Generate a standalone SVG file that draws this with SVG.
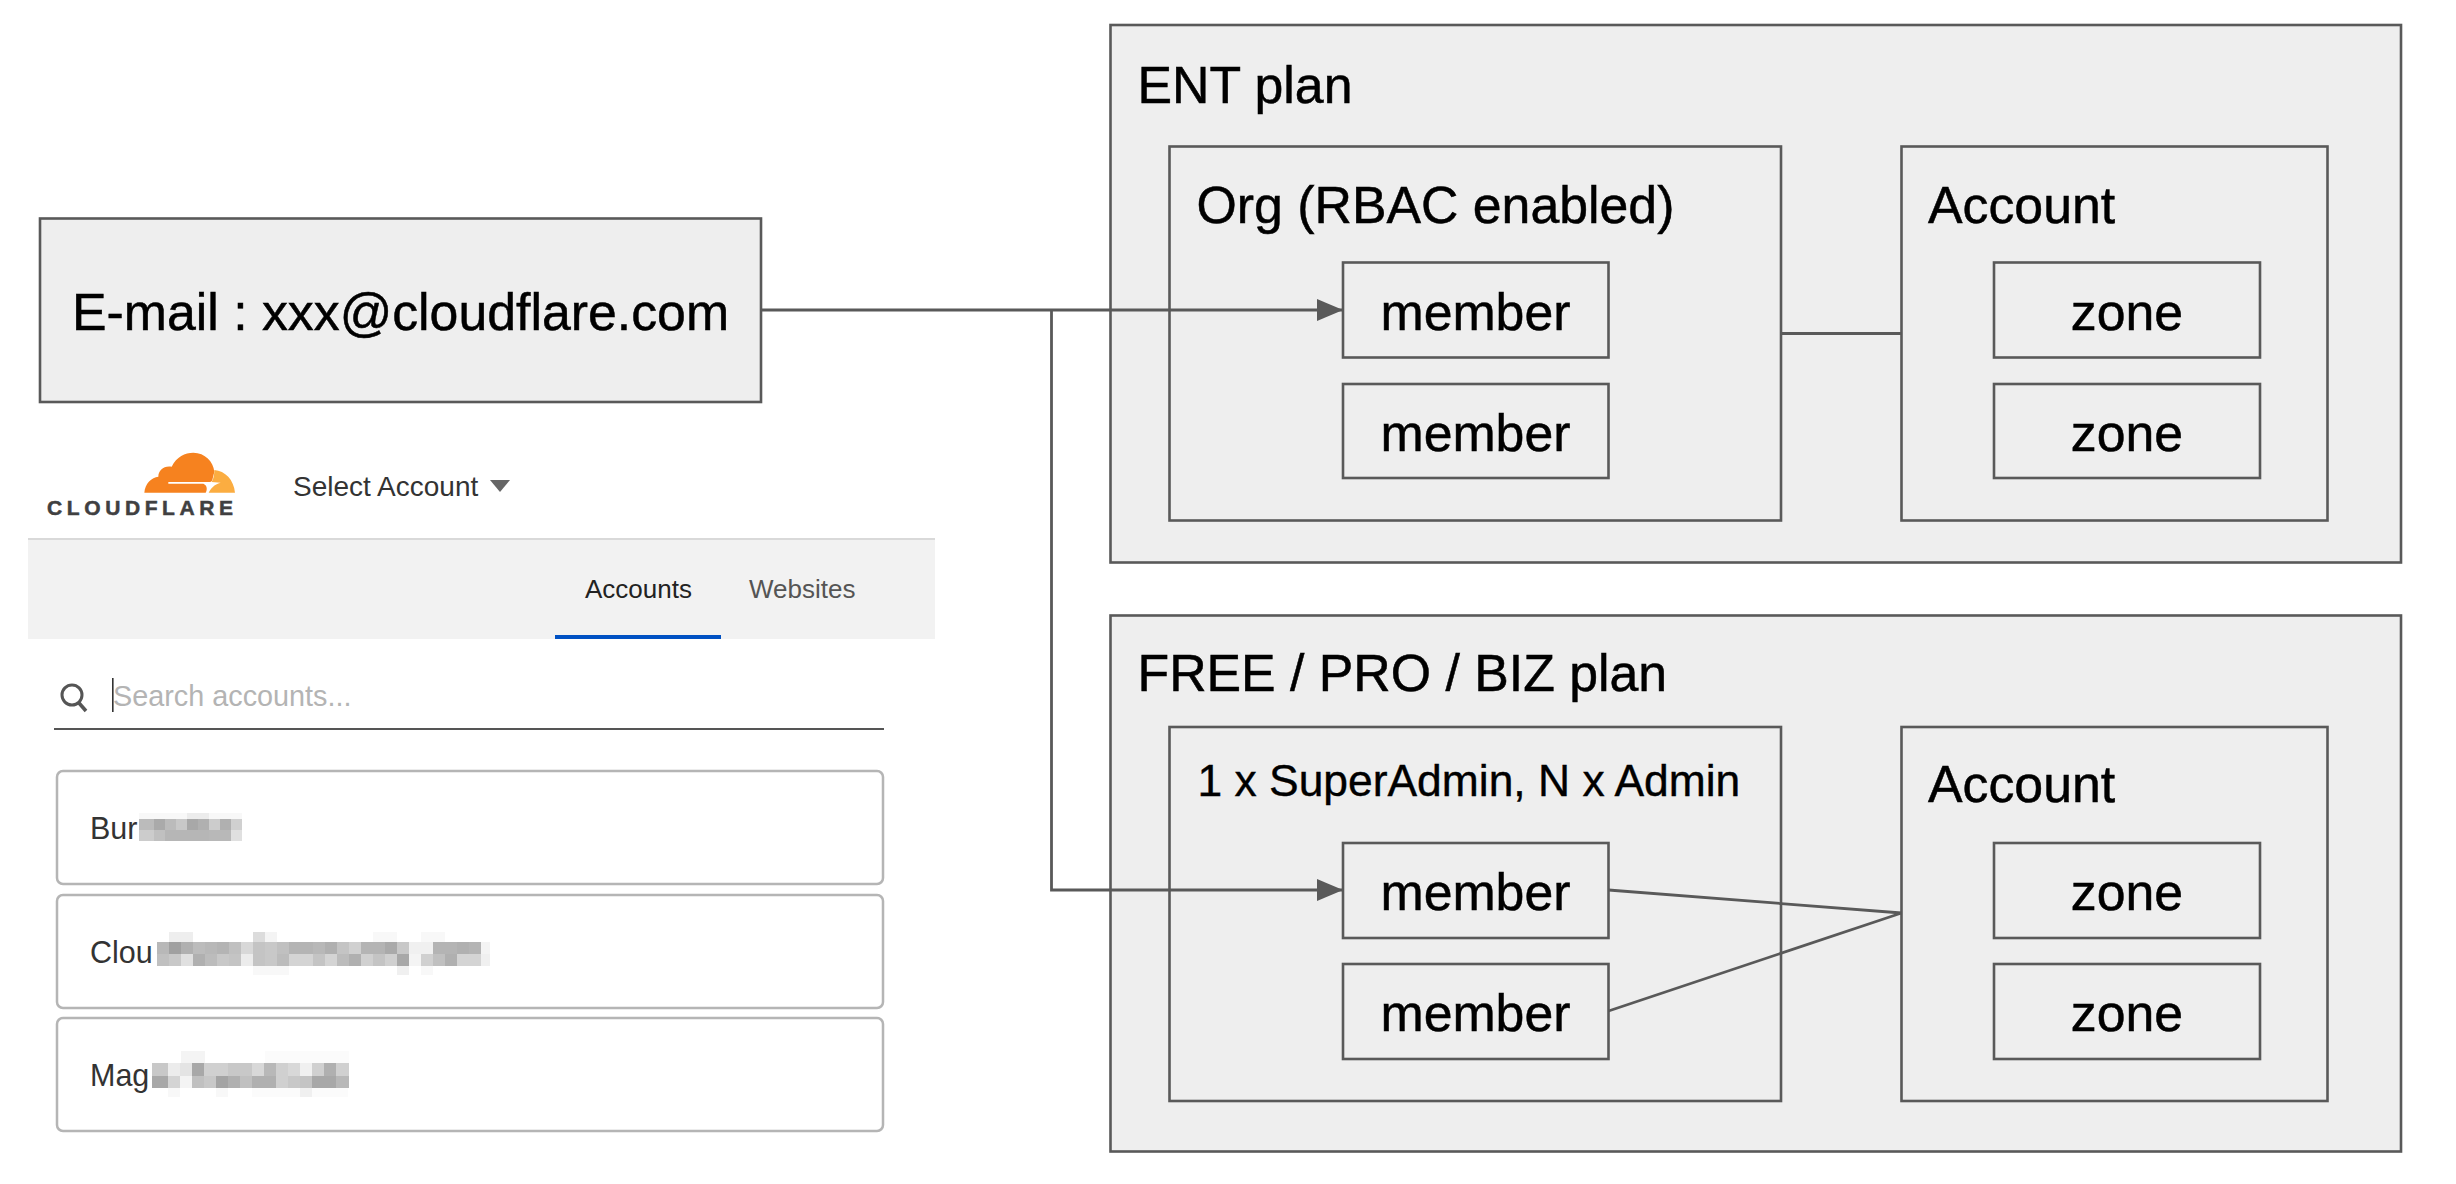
<svg xmlns="http://www.w3.org/2000/svg" width="2456" height="1184" viewBox="0 0 2456 1184">
<style>
text{font-family:"Liberation Sans",Arial,sans-serif}
.b{fill:#eeeeee;stroke:#595959;stroke-width:2.6}
.t{font-size:51.8px;fill:#000;stroke:#000;stroke-width:.5px}
.c{text-anchor:middle}
.ui{font-size:26px;fill:#333}
.lg{font-size:30.500px}
.card{fill:#fff;stroke:#b5b5b5;stroke-width:2.5}
.w{fill:none;stroke:#595959;stroke-width:2.8}
</style>
<defs>
<marker id="arrow" markerUnits="userSpaceOnUse" markerWidth="27" markerHeight="22" refX="26" refY="11" orient="auto"><path d="M0 0L26 11L0 22Z" fill="#595959"/></marker>
</defs>
<rect width="2456" height="1184" fill="#fff"/>
<g id="screenshot">
<g id="logo" transform="translate(30 440) scale(.33333)">
<path fill="#f6821f" d="M343 158C345 130 365 112 385 110C385 90 402 76 425 80C440 50 465 38 490 38C525 38 550 65 553 95L547 120C545 128 535 126 530 126L415 126L415 131L520 131C531 135 533 148 527 158Z"/>
<path fill="#fbad41" d="M536 158C542 146 552 133 572 128L545 126C552 115 553 100 553 90C585 92 612 120 615 158Z"/>
</g>
<text x="47" y="515" font-size="21" font-weight="700" fill="#404041" stroke="#404041" stroke-width=".5" letter-spacing="4.6">CLOUDFLARE</text>
<text class="ui" x="293" y="496" style="font-size:28px">Select Account</text>
<path d="M490 480H510L500 492Z" fill="#666"/>
<rect x="28" y="539" width="907" height="100" fill="#f2f2f2"/>
<rect x="28" y="538" width="907" height="2" fill="#d9d9d9"/>
<rect x="555" y="635" width="166" height="4" fill="#0051c3"/>
<text class="ui" x="585" y="597.500" style="fill:#222">Accounts</text>
<text class="ui" x="749" y="597.500" style="fill:#555">Websites</text>
<circle cx="72" cy="695" r="10" fill="none" stroke="#555" stroke-width="3"/>
<path d="M79 703L86 711" stroke="#555" stroke-width="3.5" fill="none"/>
<rect x="112" y="678" width="1.6" height="34" fill="#333"/>
<text class="ui" x="113" y="706" style="fill:#b4b4b4;font-size:28.800px">Search accounts...</text>
<rect x="54" y="728" width="830" height="2" fill="#555"/>
<rect class="card" x="57" y="771" width="826" height="113" rx="6"/>
<rect class="card" x="57" y="895" width="826" height="113" rx="6"/>
<rect class="card" x="57" y="1018" width="826" height="113" rx="6"/>
<text class="ui lg" x="90" y="838.500">Bur</text>
<text class="ui lg" x="90" y="962.500">Clou</text>
<text class="ui lg" x="90" y="1086">Mag</text>
<g id="blur1" shape-rendering="crispEdges">
<rect x="139" y="813" width="103" height="6" fill="#f8f8f8"/><rect x="187" y="813" width="22" height="6" fill="#ececec"/>
<rect x="139" y="819" width="15" height="11" fill="#bbb"/><rect x="154" y="819" width="11" height="11" fill="#aaa"/><rect x="165" y="819" width="11" height="11" fill="#bbb"/><rect x="176" y="819" width="11" height="11" fill="#c8c8c8"/><rect x="187" y="819" width="11" height="11" fill="#a8a8a8"/><rect x="198" y="819" width="11" height="11" fill="#b0b0b0"/><rect x="209" y="819" width="11" height="11" fill="#ccc"/><rect x="220" y="819" width="11" height="11" fill="#b0b0b0"/><rect x="231" y="819" width="11" height="11" fill="#d0d0d0"/>
<rect x="139" y="830" width="15" height="11" fill="#ccc"/><rect x="154" y="830" width="11" height="11" fill="#c0c0c0"/><rect x="165" y="830" width="44" height="11" fill="#b6b6b6"/><rect x="209" y="830" width="22" height="11" fill="#b8b8b8"/><rect x="231" y="830" width="11" height="11" fill="#e0e0e0"/>
</g>
<g id="blur2" shape-rendering="crispEdges">
<rect x="169" y="932" width="24" height="10" fill="#eee"/><rect x="253" y="932" width="12" height="10" fill="#dcdcdc"/><rect x="265" y="932" width="12" height="10" fill="#f4f4f4"/><rect x="373" y="932" width="24" height="10" fill="#f8f8f8"/><rect x="421" y="932" width="24" height="10" fill="#f8f8f8"/>
<rect x="157" y="942" width="12" height="12" fill="#b8b8b8"/><rect x="169" y="942" width="12" height="12" fill="#a0a0a0"/><rect x="181" y="942" width="12" height="12" fill="#b0b0b0"/><rect x="193" y="942" width="12" height="12" fill="#bcbcbc"/><rect x="205" y="942" width="12" height="12" fill="#b8b8b8"/><rect x="217" y="942" width="12" height="12" fill="#b4b4b4"/><rect x="229" y="942" width="12" height="12" fill="#c0c0c0"/><rect x="241" y="942" width="12" height="12" fill="#d8d8d8"/><rect x="253" y="942" width="12" height="12" fill="#c4c4c4"/><rect x="265" y="942" width="12" height="12" fill="#c8c8c8"/><rect x="277" y="942" width="12" height="12" fill="#c0c0c0"/><rect x="289" y="942" width="24" height="12" fill="#b4b4b4"/><rect x="313" y="942" width="12" height="12" fill="#b8b8b8"/><rect x="325" y="942" width="12" height="12" fill="#b0b0b0"/><rect x="337" y="942" width="12" height="12" fill="#c4c4c4"/><rect x="349" y="942" width="12" height="12" fill="#d0d0d0"/><rect x="361" y="942" width="24" height="12" fill="#b4b4b4"/><rect x="385" y="942" width="12" height="12" fill="#aaa"/><rect x="397" y="942" width="12" height="12" fill="#c8c8c8"/><rect x="409" y="942" width="24" height="12" fill="#f0f0f0"/><rect x="433" y="942" width="24" height="12" fill="#b4b4b4"/><rect x="457" y="942" width="12" height="12" fill="#b0b0b0"/><rect x="469" y="942" width="12" height="12" fill="#b4b4b4"/><rect x="481" y="942" width="9" height="12" fill="#f4f4f4"/>
<rect x="157" y="954" width="12" height="12" fill="#c0c0c0"/><rect x="169" y="954" width="12" height="12" fill="#c8c8c8"/><rect x="181" y="954" width="12" height="12" fill="#e0e0e0"/><rect x="193" y="954" width="12" height="12" fill="#b0b0b0"/><rect x="205" y="954" width="12" height="12" fill="#bcbcbc"/><rect x="217" y="954" width="12" height="12" fill="#c8c8c8"/><rect x="229" y="954" width="12" height="12" fill="#c4c4c4"/><rect x="241" y="954" width="12" height="12" fill="#ececec"/><rect x="253" y="954" width="12" height="12" fill="#c4c4c4"/><rect x="265" y="954" width="12" height="12" fill="#c8c8c8"/><rect x="277" y="954" width="12" height="12" fill="#bcbcbc"/><rect x="289" y="954" width="24" height="12" fill="#d4d4d4"/><rect x="313" y="954" width="12" height="12" fill="#c4c4c4"/><rect x="325" y="954" width="12" height="12" fill="#d4d4d4"/><rect x="337" y="954" width="12" height="12" fill="#bcbcbc"/><rect x="349" y="954" width="12" height="12" fill="#b0b0b0"/><rect x="361" y="954" width="12" height="12" fill="#d0d0d0"/><rect x="373" y="954" width="12" height="12" fill="#c4c4c4"/><rect x="385" y="954" width="12" height="12" fill="#d0d0d0"/><rect x="397" y="954" width="12" height="12" fill="#a8a8a8"/><rect x="409" y="954" width="12" height="12" fill="#f4f4f4"/><rect x="421" y="954" width="12" height="12" fill="#d0d0d0"/><rect x="433" y="954" width="12" height="12" fill="#c0c0c0"/><rect x="445" y="954" width="12" height="12" fill="#b0b0b0"/><rect x="457" y="954" width="24" height="12" fill="#d4d4d4"/><rect x="481" y="954" width="9" height="12" fill="#f0f0f0"/>
<rect x="253" y="966" width="36" height="9" fill="#f8f8f8"/><rect x="397" y="966" width="12" height="9" fill="#f0f0f0"/><rect x="421" y="966" width="12" height="9" fill="#f8f8f8"/>
</g>
<g id="blur3" shape-rendering="crispEdges">
<rect x="181" y="1051" width="24" height="12" fill="#f4f4f4"/><rect x="265" y="1051" width="84" height="12" fill="#fbfbfb"/>
<rect x="152" y="1063" width="16" height="13" fill="#c8c8c8"/><rect x="168" y="1063" width="12" height="13" fill="#ececec"/><rect x="180" y="1063" width="12" height="13" fill="#e4e4e4"/><rect x="192" y="1063" width="12" height="13" fill="#a8a8a8"/><rect x="204" y="1063" width="24" height="13" fill="#d0d0d0"/><rect x="228" y="1063" width="24" height="13" fill="#c8c8c8"/><rect x="252" y="1063" width="12" height="13" fill="#d8d8d8"/><rect x="264" y="1063" width="12" height="13" fill="#b8b8b8"/><rect x="276" y="1063" width="12" height="13" fill="#d0d0d0"/><rect x="288" y="1063" width="12" height="13" fill="#d8d8d8"/><rect x="300" y="1063" width="12" height="13" fill="#f0f0f0"/><rect x="312" y="1063" width="12" height="13" fill="#d0d0d0"/><rect x="324" y="1063" width="12" height="13" fill="#b0b0b0"/><rect x="336" y="1063" width="13" height="13" fill="#d0d0d0"/>
<rect x="152" y="1076" width="16" height="12" fill="#a8a8a8"/><rect x="168" y="1076" width="12" height="12" fill="#d4d4d4"/><rect x="180" y="1076" width="12" height="12" fill="#f4f4f4"/><rect x="192" y="1076" width="12" height="12" fill="#c0c0c0"/><rect x="204" y="1076" width="12" height="12" fill="#c8c8c8"/><rect x="216" y="1076" width="12" height="12" fill="#a4a4a4"/><rect x="228" y="1076" width="12" height="12" fill="#b0b0b0"/><rect x="240" y="1076" width="12" height="12" fill="#c0c0c0"/><rect x="252" y="1076" width="24" height="12" fill="#b0b0b0"/><rect x="276" y="1076" width="12" height="12" fill="#d0d0d0"/><rect x="288" y="1076" width="12" height="12" fill="#c8c8c8"/><rect x="300" y="1076" width="12" height="12" fill="#c4c4c4"/><rect x="312" y="1076" width="24" height="12" fill="#a8a8a8"/><rect x="336" y="1076" width="13" height="12" fill="#b8b8b8"/>
<rect x="168" y="1088" width="12" height="9" fill="#f8f8f8"/><rect x="216" y="1088" width="12" height="9" fill="#f8f8f8"/><rect x="252" y="1088" width="96" height="9" fill="#fbfbfb"/><rect x="300" y="1088" width="12" height="9" fill="#f0f0f0"/>
</g>
</g>
<g id="email"><rect class="b" x="40" y="218.500" width="721" height="183.500"/><text class="t" x="72" y="330">E-mail : xxx@cloudflare.com</text></g>
<g id="ent-plan"><rect class="b" x="1110.500" y="25" width="1290.500" height="537.500"/><text class="t" x="1137.500" y="103">ENT plan</text></g>
<g id="ent-org"><rect class="b" x="1169.500" y="146.500" width="611.500" height="374"/><text class="t" x="1196.500" y="223">Org (RBAC enabled)</text></g>
<g id="ent-account"><rect class="b" x="1901.500" y="146.500" width="426" height="374"/><text class="t" x="1928" y="223">Account</text></g>
<g id="ent-member1"><rect class="b" x="1343" y="262.500" width="265.500" height="95"/><text class="t c" x="1475.500" y="330">member</text></g>
<g id="ent-member2"><rect class="b" x="1343" y="384" width="265.500" height="94"/><text class="t c" x="1475.500" y="451">member</text></g>
<g id="ent-zone1"><rect class="b" x="1994" y="262.500" width="266" height="95"/><text class="t c" x="2127" y="330">zone</text></g>
<g id="ent-zone2"><rect class="b" x="1994" y="384" width="266" height="94"/><text class="t c" x="2127" y="451">zone</text></g>
<g id="free-plan"><rect class="b" x="1110.500" y="615.500" width="1290.500" height="536"/><text class="t" x="1137.500" y="691">FREE / PRO / BIZ plan</text></g>
<g id="free-org"><rect class="b" x="1169.500" y="727" width="611.500" height="374"/><text x="1197.500" y="796" style="font-size:44.400px;fill:#000;stroke:#000;stroke-width:.4px">1 x SuperAdmin, N x Admin</text></g>
<g id="free-account"><rect class="b" x="1901.500" y="727" width="426" height="374"/><text class="t" x="1928" y="802">Account</text></g>
<g id="free-member1"><rect class="b" x="1343" y="843" width="265.500" height="95"/><text class="t c" x="1475.500" y="910">member</text></g>
<g id="free-member2"><rect class="b" x="1343" y="964" width="265.500" height="95"/><text class="t c" x="1475.500" y="1031">member</text></g>
<g id="free-zone1"><rect class="b" x="1994" y="843" width="266" height="95"/><text class="t c" x="2127" y="910">zone</text></g>
<g id="free-zone2"><rect class="b" x="1994" y="964" width="266" height="95"/><text class="t c" x="2127" y="1031">zone</text></g>
<g id="connectors">
<path class="w" d="M761 310H1343" marker-end="url(#arrow)"/>
<path class="w" d="M1051.500 310V890H1343" marker-end="url(#arrow)"/>
<path class="w" d="M1781 333.500H1901.500"/>
<path class="w" d="M1608.500 890L1901.500 913"/>
<path class="w" d="M1608.500 1011L1901.500 913"/>
</g>
</svg>
